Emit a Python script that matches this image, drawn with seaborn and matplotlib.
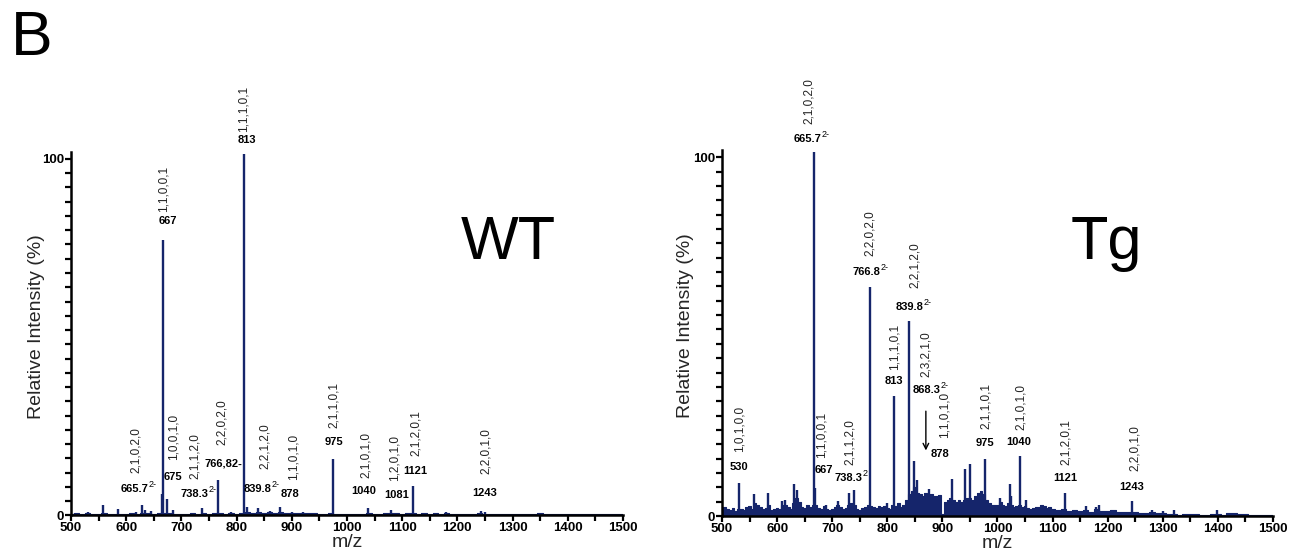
import matplotlib
matplotlib.use("Agg")
import matplotlib.pyplot as plt
import seaborn as sns
import pandas as pd
from matplotlib import font_manager
from matplotlib.ticker import MultipleLocator

# ---------------- data ----------------
# WT background trace (m/z, relative intensity)
wt_bg_mz = [500, 510, 520, 530, 540, 550, 560, 570, 580, 590, 600, 610, 620, 630, 640, 650,
            660, 670, 680, 690, 700, 710, 720, 730, 740, 750, 760, 770, 780, 790, 800, 810,
            820, 830, 840, 850, 860, 870, 880, 890, 900, 910, 920, 930, 940, 950, 960, 970,
            980, 990, 1000, 1010, 1020, 1030, 1040, 1050, 1060, 1070, 1080, 1090, 1100, 1110,
            1120, 1130, 1140, 1150, 1160, 1170, 1180, 1190, 1200, 1210, 1220, 1230, 1240, 1250,
            1260, 1270, 1280, 1290, 1300, 1310, 1320, 1330, 1340, 1350, 1360, 1370, 1380, 1390,
            1400, 1410, 1420, 1430, 1440, 1450, 1460, 1470, 1480, 1490, 1500]
wt_bg_int = [0.5, 0.7, 0.4, 0.6, 0.4, 0.5, 0.6, 0.4, 0.5, 0.4, 0.5, 0.6, 0.5, 0.7, 0.6, 0.5,
             0.6, 0.8, 0.6, 0.5, 0.5, 0.4, 0.6, 0.5, 0.8, 0.5, 0.6, 0.7, 0.5, 0.6, 0.5, 0.7,
             0.9, 0.8, 1.0, 0.7, 0.9, 0.8, 1.0, 0.8, 0.7, 0.6, 0.8, 0.7, 0.6, 0.5, 0.5, 0.6,
             0.5, 0.4, 0.5, 0.4, 0.5, 0.5, 0.6, 0.5, 0.4, 0.6, 0.7, 0.6, 0.5, 0.6,
             0.6, 0.5, 0.6, 0.5, 0.6, 0.4, 0.7, 0.5, 0.4, 0.5, 0.4, 0.5, 0.7, 0.5,
             0.4, 0.5, 0.4, 0.3, 0.4, 0.3, 0.4, 0.5, 0.5, 0.6, 0.4, 0.3, 0.4, 0.3,
             0.5, 0.3, 0.4, 0.3, 0.3, 0.4, 0.3, 0.3, 0.4, 0.3, 0.3]
# WT peaks
wt_pk_mz = [508, 530, 558.5, 585, 617, 629, 635, 645, 665.5, 667, 674, 685, 737, 766, 789,
            813, 818, 838, 860, 879, 900, 920, 974, 1039, 1079, 1120, 1180, 1243, 1250, 1350]
wt_pk_int = [0.8, 0.9, 3.0, 1.8, 1.0, 3.0, 1.5, 1.3, 6.1, 77.3, 4.7, 1.5, 2.0, 9.9, 1.0,
             101.5, 2.5, 2.2, 1.2, 2.4, 1.0, 1.0, 15.8, 2.2, 1.6, 8.4, 1.0, 1.2, 0.9, 0.8]

# Tg background trace
tg_bg_mz = [500, 505, 510, 515, 520, 525, 530, 535, 540, 545, 550, 555, 560, 565, 570, 575,
            580, 585, 590, 595, 600, 605, 610, 615, 620, 625, 630, 635, 640, 645, 650, 655,
            660, 665, 670, 675, 680, 685, 690, 695, 700, 705, 710, 715, 720, 725, 730, 735,
            740, 745, 750, 755, 760, 765, 770, 775, 780, 785, 790, 795, 800, 805, 810, 815,
            820, 825, 830, 835, 840, 845, 850, 855, 860, 865, 870, 875, 880, 885, 890, 895,
            900, 905, 910, 915, 920, 925, 930, 935, 940, 945, 950, 955, 960, 965, 970, 975,
            980, 985, 990, 995, 1000, 1005, 1010, 1015, 1020, 1025, 1030, 1035, 1040, 1045,
            1050, 1055, 1060, 1065, 1070, 1075, 1080, 1085, 1090, 1095, 1100, 1110, 1120,
            1130, 1140, 1150, 1160, 1170, 1180, 1190, 1200, 1210, 1220, 1230, 1240, 1250,
            1260, 1270, 1280, 1290, 1300, 1310, 1320, 1330, 1340, 1350, 1360, 1370, 1380,
            1390, 1400, 1410, 1420, 1430, 1440, 1450, 1460, 1470, 1480, 1490, 1500]
tg_bg_int = [1.5, 2.5, 2.0, 1.8, 2.2, 1.5, 2.0, 2.0, 1.8, 2.5, 2.8, 2.0, 3.5, 3.0, 2.5, 2.0,
             2.2, 3.0, 1.8, 2.0, 2.3, 2.0, 3.0, 3.2, 2.5, 2.0, 3.5, 5.0, 4.0, 2.5, 2.2, 3.0,
             2.5, 3.0, 3.0, 2.2, 2.0, 2.8, 2.0, 1.8, 2.0, 2.5, 3.2, 2.5, 2.0, 2.2, 3.0, 3.5,
             3.0, 2.0, 1.8, 2.2, 2.5, 3.0, 2.8, 2.5, 2.2, 2.8, 2.5, 2.8, 2.2, 2.0, 3.0, 2.8,
             3.5, 2.5, 3.0, 4.5, 6.0, 7.0, 8.0, 6.5, 6.0, 5.5, 6.5, 5.8, 6.2, 5.5, 5.5, 5.8,
             0.5, 4.0, 4.5, 5.0, 4.5, 4.0, 4.5, 4.0, 4.5, 5.0, 5.0, 4.5, 5.5, 6.5, 7.0, 6.0,
             4.5, 3.5, 3.0, 3.2, 3.0, 4.0, 3.2, 2.8, 3.5, 3.0, 2.5, 2.8, 3.0, 2.5,
             2.8, 2.2, 2.0, 2.2, 2.5, 2.5, 3.0, 2.8, 2.2, 2.5, 2.0, 1.8, 2.0,
             1.5, 1.8, 1.5, 1.8, 1.2, 2.0, 1.5, 1.5, 1.8, 1.2, 1.0, 1.2, 1.0,
             0.8, 0.8, 1.2, 0.8, 0.8, 0.7, 0.6, 0.4, 0.6, 0.5, 0.6, 0.4, 0.4,
             0.5, 0.6, 0.3, 0.8, 0.8, 0.7, 0.6, 0.2, 0.2, 0.2, 0.2, 0.2]
# Tg peaks
tg_pk_mz = [530, 558, 583, 609, 615, 631, 637, 666.5, 669, 688, 710, 731, 739, 768, 799,
            813, 840, 848, 853, 875, 918, 941, 951, 977, 1005, 1022, 1024, 1041, 1052,
            1123, 1160, 1178, 1185, 1245, 1280, 1300, 1320, 1398]
tg_pk_int = [9.3, 6.1, 6.3, 4.1, 4.6, 8.8, 7.2, 101.5, 7.8, 3.0, 4.3, 6.3, 7.2, 63.8, 3.6,
             33.5, 54.5, 15.2, 10.0, 7.5, 10.3, 13.1, 14.6, 15.9, 5.0, 8.8, 5.5, 16.6, 4.6,
             6.3, 2.8, 2.6, 3.2, 4.3, 1.8, 1.5, 1.6, 1.6]

# annotations: (m/z position, centre height, text)
wt_comp = [(812, 114, "1,1,1,0,1"), (667, 91.5, "1,1,0,0,1"), (617, 18.3, "2,1,0,2,0"),
           (686, 22, "1,0,0,1,0"), (725, 16.8, "2,1,1,2,0"), (774, 26.2, "2,2,0,2,0"),
           (851, 19.5, "2,2,1,2,0"), (903.6, 16.3, "1,1,0,1,0"), (977, 31, "2,1,1,0,1"),
           (1035, 17, "2,1,0,1,0"), (1087, 16, "1,2,0,1,0"), (1125, 23.2, "2,1,2,0,1"),
           (1252, 18, "2,2,0,1,0")]
wt_mass = [(818, 105.2, "813", ""), (675, 82.5, "667", ""), (615, 7.4, "665.7", "2-"),
           (684, 10.8, "675", ""), (723.5, 6.1, "738.3", "2-"), (776, 14.6, "766,82-", ""),
           (838, 7.4, "839.8", "2-"), (896, 6.1, "878", ""), (977, 20.5, "975", ""),
           (1031, 6.8, "1040", ""), (1089.6, 5.8, "1081", ""), (1123, 12.6, "1121", ""),
           (1249, 6.3, "1243", "")]
tg_comp = [(658, 115.7, "2,1,0,2,0"), (768.5, 79, "2,2,0,2,0"), (851, 70, "2,2,1,2,0"),
           (813.6, 47.2, "1,1,1,0,1"), (870, 45, "2,3,2,1,0"), (903.6, 28.3, "1,1,0,1,0"),
           (532, 24.4, "1,0,1,0,0"), (680, 22.7, "1,1,0,0,1"), (733, 20.7, "2,1,1,2,0"),
           (978.6, 30.8, "2,1,1,0,1"), (1042, 30.5, "2,1,0,1,0"), (1125, 20.7, "2,1,2,0,1"),
           (1248.7, 19, "2,2,0,1,0")]
tg_mass = [(656, 105.2, "665.7", "2-"), (763, 68, "766.8", "2-"), (840, 58.4, "839.8", "2-"),
           (812, 37.7, "813", ""), (872, 35.1, "868.3", "2-"), (896, 17.3, "878", ""),
           (531, 13.6, "530", ""), (684.5, 12.9, "667", ""), (729.5, 10.5, "738.3", "2"),
           (977, 20.3, "975", ""), (1038.6, 20.5, "1040", ""), (1123.5, 10.5, "1121", ""),
           (1243, 8, "1243", "")]

# ---------------- style ----------------
sns.set_style("ticks")
names = {f.name for f in font_manager.fontManager.ttflist}
base = "Liberation Sans" if "Liberation Sans" in names else "DejaVu Sans"
narrow = "Liberation Sans Narrow" if "Liberation Sans Narrow" in names else base
plt.rcParams["font.family"] = [base, "DejaVu Sans"]

NAVY = "#15256b"
fig = plt.figure(figsize=(13, 5.51), dpi=100)
fig.patch.set_facecolor("white")


def panel(pos, bg_mz, bg_int, pk_mz, pk_int, comps, masses, tag, tag_xy, ylab_xy):
    ax = fig.add_axes(pos)
    df = pd.DataFrame({"mz": bg_mz, "inten": bg_int})
    ax.fill_between(df["mz"], 0, df["inten"], step="mid", color=NAVY, lw=0)
    sns.lineplot(data=df, x="mz", y="inten", ax=ax, color=NAVY, lw=0.8,
                 drawstyle="steps-mid")
    ax.vlines(pk_mz, 0, pk_int, color=NAVY, lw=1.7)
    ax.set_xlim(500, 1500)
    ax.set_ylim(0, 102)
    ax.set_xticks(range(500, 1501, 100))
    ax.xaxis.set_minor_locator(MultipleLocator(50))
    ax.set_yticks([0, 100])
    ax.yaxis.set_minor_locator(MultipleLocator(4))
    sns.despine(ax=ax)
    for s in ("left", "bottom"):
        ax.spines[s].set_linewidth(1.8)
        ax.spines[s].set_color("black")
    ax.tick_params(which="both", direction="out", width=1.6, colors="black")
    ax.tick_params(which="major", length=4, pad=1)
    ax.tick_params(which="minor", length=4)
    for lab in ax.get_xticklabels() + ax.get_yticklabels():
        lab.set_fontfamily(narrow)
        lab.set_fontweight("bold")
        lab.set_fontsize(9.5)
    ax.set_xlabel("m/z", fontsize=14, labelpad=0)
    ax.set_ylabel("Relative Intensity (%)", fontsize=14)
    ax.yaxis.set_label_coords(*ylab_xy)
    for x, y, t in comps:
        ax.text(x, y, t, rotation=90, ha="center", va="center", fontsize=8.5,
                color="#222222", clip_on=False)
    for x, y, t, sup in masses:
        tx = ax.text(x, y, t, ha="center", va="center", fontsize=8,
                     fontweight="bold", color="black", clip_on=False)
        if sup:
            ax.annotate(sup, xy=(1.0, 0.95), xycoords=tx, ha="left", va="center",
                        fontsize=6.5, color="black", annotation_clip=False)
    ax.text(tag_xy[0], tag_xy[1], tag, fontsize=44, ha="left", va="baseline",
            color="black")
    return ax


ax1 = panel([0.0546, 0.0645, 0.4246, 0.660], wt_bg_mz, wt_bg_int, wt_pk_mz, wt_pk_int,
            wt_comp, wt_mass, "WT", (1207, 72), (-0.047, 0.52))
ax2 = panel([0.5554, 0.0635, 0.4238, 0.664], tg_bg_mz, tg_bg_int, tg_pk_mz, tg_pk_int,
            tg_comp, tg_mass, "Tg", (1132, 71.6), (-0.050, 0.52))
ax2.annotate("", xy=(870, 17.5), xytext=(870, 30),
             arrowprops=dict(arrowstyle="->", lw=1.0, color="black"))

fig.text(0.008, 0.90, "B", fontsize=45, ha="left", va="baseline", color="black")

fig.savefig("out.png", dpi=100, facecolor="white")
